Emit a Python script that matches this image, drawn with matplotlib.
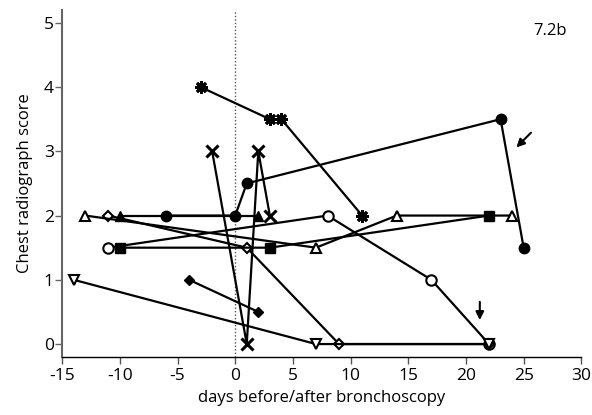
import matplotlib
matplotlib.use("Agg")
import matplotlib.pyplot as plt

plt.rcParams['font.family'] = ['Open Sans', 'DejaVu Sans']

# Series data (days, score)
asterisk_x = [-3, 3, 4, 11]
asterisk_y = [4, 3.5, 3.5, 2]

cross_x = [-2, 1, 2, 3]
cross_y = [3, 0, 3, 2]

fcircle_x = [-6, 0, 1, 23, 25]
fcircle_y = [2, 2, 2.5, 3.5, 1.5]

ftri_x = [-10, 2]
ftri_y = [2, 2]

otri_x = [-13, 7, 14, 24]
otri_y = [2, 1.5, 2, 2]

odiam_x = [-11, 1, 9, 22]
odiam_y = [2, 1.5, 0, 0]

ocircle_x = [-11, 8, 17, 22]
ocircle_y = [1.5, 2, 1, 0]

fsquare_x = [-10, 3, 22]
fsquare_y = [1.5, 1.5, 2]

fdiam_x = [-4, 2]
fdiam_y = [1, 0.5]

itri_x = [-14, 7, 22]
itri_y = [1, 0, 0]

xticks = [-15, -10, -5, 0, 5, 10, 15, 20, 25, 30]
yticks = [0, 1, 2, 3, 4, 5]

fig = plt.figure(figsize=(5.92, 4.15), dpi=100)
ax = fig.add_axes([0.105, 0.14, 0.877, 0.836])

ax.axvline(0, color='#555555', lw=1.0, ls=(0, (1, 1.5)), zorder=1)

lw = 1.6
common = dict(color='black', lw=lw, zorder=3)

ax.plot(ocircle_x, ocircle_y, marker='o', ms=7.5, mfc='white', mec='black', mew=1.5, **common)
ax.plot(odiam_x, odiam_y, marker='D', ms=5.5, mfc='white', mec='black', mew=1.5, **common)
ax.plot(itri_x, itri_y, marker='v', ms=7.5, mfc='white', mec='black', mew=1.5, **common)
ax.plot(otri_x, otri_y, marker='^', ms=7.5, mfc='white', mec='black', mew=1.5, **common)
ax.plot(fsquare_x, fsquare_y, marker='s', ms=7, mfc='black', mec='black', **common)
ax.plot(ftri_x, ftri_y, marker='^', ms=7.5, mfc='black', mec='black', **common)
ax.plot(fcircle_x, fcircle_y, marker='o', ms=7.5, mfc='black', mec='black', **common)
ax.plot(fdiam_x, fdiam_y, marker='D', ms=5.5, mfc='black', mec='black', **common)
ax.plot(cross_x, cross_y, marker='x', ms=9, mew=2.2, **common)
ax.plot(asterisk_x, asterisk_y, marker=(8, 2, 0), ms=9, mew=2.0, **common)

# arrows
ax.annotate('', xy=(24.2, 3.03), xytext=(25.8, 3.32),
            arrowprops=dict(arrowstyle='-|>', color='black', lw=1.5, mutation_scale=12))
ax.annotate('', xy=(21.2, 0.33), xytext=(21.2, 0.70),
            arrowprops=dict(arrowstyle='-|>', color='black', lw=1.5, mutation_scale=12))

ax.text(0.94, 0.94, '7.2b', transform=ax.transAxes, ha='center', va='center', fontsize=12)

ax.set_xlim(-15, 30)
ax.set_ylim(-0.2, 5.2)
ax.set_xticks(xticks)
ax.set_yticks(yticks)
ax.set_xticklabels([str(v) for v in xticks])
ax.set_yticklabels([str(v) for v in yticks])

ax.spines['top'].set_visible(False)
ax.spines['right'].set_visible(False)
ax.spines['left'].set_color('#666666')
ax.spines['left'].set_linewidth(1.5)
ax.spines['bottom'].set_color('black')
ax.spines['bottom'].set_linewidth(1.0)
ax.tick_params(axis='y', direction='out', length=5, width=1.0, color='#666666', labelsize=12.5, pad=1)
ax.tick_params(axis='x', direction='out', length=5, width=1.0, color='#555555', labelsize=12.5, pad=3)

ax.set_xlabel('days before/after bronchoscopy', fontsize=12, labelpad=4)
ax.set_ylabel('Chest radiograph score', fontsize=12, labelpad=8)

fig.savefig('out.png', dpi=100)
